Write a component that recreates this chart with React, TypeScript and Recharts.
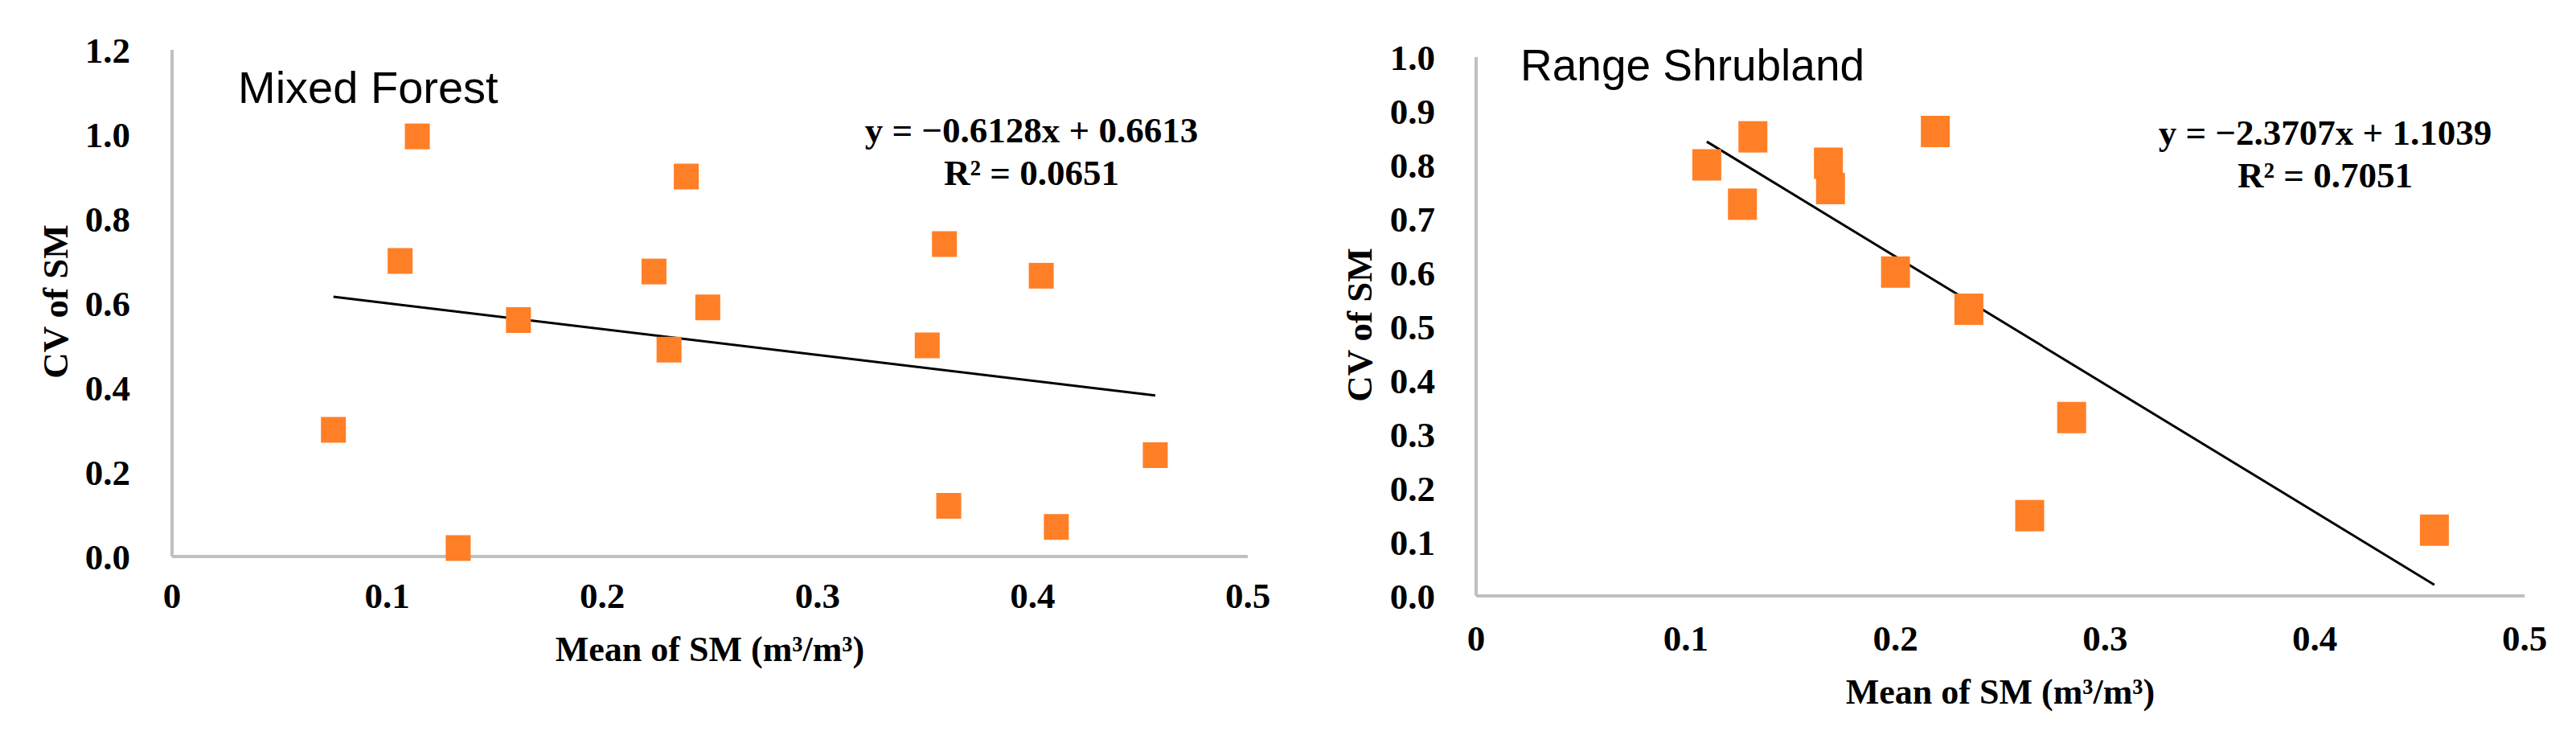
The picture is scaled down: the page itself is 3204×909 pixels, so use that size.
import React from 'react';
import { ScatterChart, Scatter, XAxis, YAxis, ReferenceLine } from 'recharts';

// ---- Data ----
const xTicks = [0, 0.1, 0.2, 0.3, 0.4, 0.5];
const mfYTicks = [0, 0.2, 0.4, 0.6, 0.8, 1.0, 1.2];
const rsYTicks = [0, 0.1, 0.2, 0.3, 0.4, 0.5, 0.6, 0.7, 0.8, 0.9, 1.0];

const mfMean = [0.075, 0.106, 0.114, 0.133, 0.161, 0.224, 0.231, 0.239, 0.249, 0.351, 0.359, 0.361, 0.404, 0.411, 0.457];
const mfCV = [0.30, 0.70, 0.995, 0.02, 0.56, 0.675, 0.49, 0.90, 0.59, 0.50, 0.74, 0.12, 0.665, 0.07, 0.24];
const mfSlope = -0.6128;
const mfIntercept = 0.6613;
const mfR2 = '0.0651';

const rsMean = [0.110, 0.127, 0.132, 0.168, 0.169, 0.200, 0.219, 0.235, 0.264, 0.284, 0.457];
const rsCV = [0.80, 0.727, 0.852, 0.803, 0.756, 0.601, 0.862, 0.532, 0.149, 0.331, 0.122];
const rsSlope = -2.3707;
const rsIntercept = 1.1039;
const rsR2 = '0.7051';

const mfData = mfMean.map((x, i) => ({ x, y: mfCV[i] }));
const rsData = rsMean.map((x, i) => ({ x, y: rsCV[i] }));

const fitSegment = (xs: number[], slope: number, intercept: number) => {
  const x0 = Math.min(...xs);
  const x1 = Math.max(...xs);
  return [
    { x: x0, y: slope * x0 + intercept },
    { x: x1, y: slope * x1 + intercept },
  ];
};

const ORANGE = '#FF7F27';
const AXIS = '#C0C0C0';
const SERIF = '"Liberation Serif", "Times New Roman", serif';
const SANS = '"Liberation Sans", Arial, sans-serif';

const square = (w: number, h: number) => (props: any) => {
  const { cx, cy } = props;
  if (cx == null || cy == null) return <g />;
  return <rect x={cx - w / 2} y={cy - h / 2} width={w} height={h} fill={ORANGE} />;
};

const tickStyle = { fill: '#000', fontFamily: SERIF, fontWeight: 700, fontSize: 45 };

const fmtX = (v: number) => (v === 0 ? '0' : String(v));
const fmtY = (v: number) => v.toFixed(1);

const YW = 60;
const XH = 30;

export default function App() {
  return (
    <div style={{ position: 'absolute', left: 0, top: 0, width: 3204, height: 909, background: '#fff', overflow: 'hidden' }}>
      {/* Left: Mixed Forest */}
      <div style={{ position: 'absolute', left: 0, top: 0, width: 1600, height: 909 }}>
        <ScatterChart width={1600} height={909} margin={{ top: 62, right: 48, bottom: 217 - XH, left: 214 - YW }}>
          <XAxis
            type="number"
            dataKey="x"
            domain={[0, 0.5]}
            ticks={xTicks}
            tickFormatter={fmtX}
            height={XH}
            tickLine={false}
            tickSize={0}
            tickMargin={32}
            axisLine={{ stroke: AXIS, strokeWidth: 4 }}
            tick={tickStyle}
            interval={0}
          />
          <YAxis
            type="number"
            dataKey="y"
            domain={[0, 1.2]}
            ticks={mfYTicks}
            tickFormatter={fmtY}
            width={YW}
            tickLine={false}
            tickSize={0}
            tickMargin={52}
            axisLine={{ stroke: AXIS, strokeWidth: 4 }}
            tick={tickStyle}
            interval={0}
          />
          <Scatter data={mfData} shape={square(31, 32)} isAnimationActive={false} />
          <ReferenceLine segment={fitSegment(mfMean, mfSlope, mfIntercept)} stroke="#000" strokeWidth={3} />
        </ScatterChart>
      </div>

      {/* Right: Range Shrubland */}
      <div style={{ position: 'absolute', left: 1600, top: 0, width: 1604, height: 909 }}>
        <ScatterChart width={1604} height={909} margin={{ top: 71, right: 64, bottom: 168 - XH, left: 236 - YW }}>
          <XAxis
            type="number"
            dataKey="x"
            domain={[0, 0.5]}
            ticks={xTicks}
            tickFormatter={fmtX}
            height={XH}
            tickLine={false}
            tickSize={0}
            tickMargin={36}
            axisLine={{ stroke: AXIS, strokeWidth: 4 }}
            tick={tickStyle}
            interval={0}
          />
          <YAxis
            type="number"
            dataKey="y"
            domain={[0, 1.0]}
            ticks={rsYTicks}
            tickFormatter={fmtY}
            width={YW}
            tickLine={false}
            tickSize={0}
            tickMargin={51}
            axisLine={{ stroke: AXIS, strokeWidth: 4 }}
            tick={tickStyle}
            interval={0}
          />
          <Scatter data={rsData} shape={square(36, 39)} isAnimationActive={false} />
          <ReferenceLine segment={fitSegment(rsMean, rsSlope, rsIntercept)} stroke="#000" strokeWidth={3} />
        </ScatterChart>
      </div>

      {/* Text annotations */}
      <svg width={3204} height={909} style={{ position: 'absolute', left: 0, top: 0, pointerEvents: 'none' }}>
        {/* Left chart */}
        <text x={296} y={128} fontFamily={SANS} fontSize={56} fill="#000">Mixed Forest</text>
        <text x={1283} y={177} textAnchor="middle" fontFamily={SERIF} fontWeight={700} fontSize={45} fill="#000">
          {`y = \u22120.6128x + 0.6613`}
        </text>
        <text x={1283} y={230} textAnchor="middle" fontFamily={SERIF} fontWeight={700} fontSize={45} fill="#000">
          {`R\u00B2 = ${mfR2}`}
        </text>
        <text x={84} y={375} transform="rotate(-90 84 375)" textAnchor="middle" fontFamily={SERIF} fontWeight={700} fontSize={45} fill="#000">CV of SM</text>
        <text x={883} y={822} textAnchor="middle" fontFamily={SERIF} fontWeight={700} fontSize={44} fill="#000">Mean of SM (m³/m³)</text>

        {/* Right chart */}
        <text x={1891} y={100} fontFamily={SANS} fontSize={55} fill="#000">Range Shrubland</text>
        <text x={2892} y={180} textAnchor="middle" fontFamily={SERIF} fontWeight={700} fontSize={45} fill="#000">
          {`y = \u22122.3707x + 1.1039`}
        </text>
        <text x={2892} y={233} textAnchor="middle" fontFamily={SERIF} fontWeight={700} fontSize={45} fill="#000">
          {`R\u00B2 = ${rsR2}`}
        </text>
        <text x={1706} y={404} transform="rotate(-90 1706 404)" textAnchor="middle" fontFamily={SERIF} fontWeight={700} fontSize={45} fill="#000">CV of SM</text>
        <text x={2488} y={875} textAnchor="middle" fontFamily={SERIF} fontWeight={700} fontSize={44} fill="#000">Mean of SM (m³/m³)</text>
      </svg>
    </div>
  );
}
